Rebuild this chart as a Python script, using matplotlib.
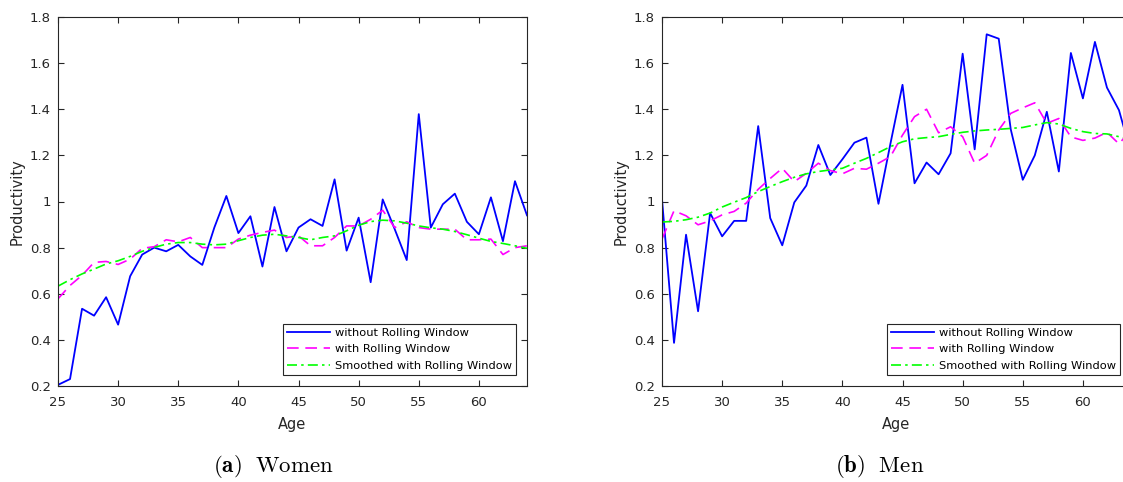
import numpy as np
import matplotlib
matplotlib.use('Agg')
import matplotlib.pyplot as plt

plt.rcParams['mathtext.fontset'] = 'cm'

AGES = list(range(25, 65))

# Women
W_RAW = [0.205, 0.23, 0.535, 0.505, 0.585, 0.466, 0.676, 0.77, 0.80, 0.784,
         0.812, 0.762, 0.725, 0.887, 1.024, 0.863, 0.936, 0.718, 0.976, 0.784,
         0.887, 0.923, 0.894, 1.096, 0.787, 0.930, 0.65, 1.009, 0.88, 0.746,
         1.379, 0.887, 0.988, 1.034, 0.912, 0.858, 1.018, 0.828, 1.088, 0.94]
W_ROLL = [0.578, 0.636, 0.68, 0.736, 0.74, 0.727, 0.75, 0.797, 0.804, 0.834,
          0.825, 0.844, 0.80, 0.80, 0.80, 0.837, 0.854, 0.866, 0.876, 0.844,
          0.851, 0.808, 0.808, 0.844, 0.894, 0.894, 0.923, 0.962, 0.887, 0.912,
          0.887, 0.88, 0.88, 0.88, 0.834, 0.834, 0.837, 0.77, 0.80, 0.808]
W_SMOOTH = [0.633, 0.661, 0.686, 0.707, 0.729, 0.743, 0.762, 0.784, 0.801, 0.815,
            0.822, 0.822, 0.815, 0.812, 0.815, 0.83, 0.844, 0.854, 0.858, 0.851,
            0.844, 0.834, 0.844, 0.851, 0.873, 0.897, 0.913, 0.919, 0.916, 0.906,
            0.894, 0.886, 0.88, 0.87, 0.856, 0.841, 0.827, 0.818, 0.808, 0.797]

# Men
M_RAW = [1.01, 0.387, 0.856, 0.524, 0.95, 0.849, 0.916, 0.916, 1.327, 0.928,
         0.81, 0.996, 1.069, 1.245, 1.115, 1.183, 1.255, 1.277, 0.99, 1.252,
         1.506, 1.079, 1.169, 1.118, 1.209, 1.641, 1.226, 1.725, 1.706, 1.313,
         1.094, 1.20, 1.389, 1.13, 1.644, 1.447, 1.692, 1.494, 1.396, 1.21]
M_ROLL = [0.837, 0.96, 0.938, 0.899, 0.916, 0.942, 0.957, 0.993, 1.053, 1.10,
          1.144, 1.086, 1.122, 1.166, 1.134, 1.12, 1.144, 1.14, 1.166, 1.195,
          1.288, 1.368, 1.40, 1.298, 1.324, 1.281, 1.166, 1.20, 1.31, 1.382,
          1.406, 1.428, 1.339, 1.36, 1.28, 1.265, 1.275, 1.30, 1.25, 1.31]
M_SMOOTH = [0.911, 0.914, 0.921, 0.932, 0.95, 0.976, 0.997, 1.017, 1.043, 1.065,
            1.086, 1.105, 1.12, 1.13, 1.137, 1.144, 1.166, 1.187, 1.212, 1.238,
            1.259, 1.272, 1.277, 1.281, 1.291, 1.30, 1.306, 1.31, 1.313, 1.317,
            1.321, 1.332, 1.342, 1.336, 1.317, 1.303, 1.295, 1.293, 1.281, 1.27]

YTICKS = [0.2, 0.4, 0.6, 0.8, 1.0, 1.2, 1.4, 1.6, 1.8]
YLABELS = ['0.2', '0.4', '0.6', '0.8', '1', '1.2', '1.4', '1.6', '1.8']
XTICKS = [25, 30, 35, 40, 45, 50, 55, 60]
LEGEND = ['without Rolling Window', 'with Rolling Window', 'Smoothed with Rolling Window']

W, H = 1123, 482
TXT = '#262626'


def panel(ax, raw, roll, smooth):
    ax.plot(AGES, raw, color='#0000ff', lw=1.3, label=LEGEND[0])
    ax.plot(AGES, roll, color='#ff00ff', lw=1.2, ls=(0, (7, 4)), label=LEGEND[1])
    ax.plot(AGES, smooth, color='#00ff00', lw=1.2, ls=(0, (6, 2.5, 1.5, 2.5)), label=LEGEND[2])
    ax.set_xlim(25, 64); ax.set_ylim(0.2, 1.8)
    ax.set_xticks(XTICKS); ax.set_yticks(YTICKS); ax.set_yticklabels(YLABELS)
    ax.tick_params(direction='in', top=True, right=True, length=4, width=0.8,
                   colors=TXT, labelsize=9.5)
    ax.tick_params(axis='x', pad=7)
    ax.tick_params(axis='y', pad=5)
    for s in ax.spines.values():
        s.set_color(TXT); s.set_linewidth(0.8)
    ax.set_xlabel('Age', fontsize=10.5, color=TXT, labelpad=6)
    ax.set_ylabel('Productivity', fontsize=10.5, color=TXT, labelpad=4)
    leg = ax.legend(loc='lower right', fontsize=8.2, handlelength=3.7, borderaxespad=0.95,
                    fancybox=False, framealpha=1, edgecolor=TXT,
                    borderpad=0.4, labelspacing=0.55, handletextpad=0.45)
    leg.get_frame().set_linewidth(0.8)


fig = plt.figure(figsize=(W / 100, H / 100), dpi=100)
ax1 = fig.add_axes([58 / W, (H - 386) / H, 469 / W, 369 / H])
ax2 = fig.add_axes([662 / W, (H - 386) / H, 469 / W, 369 / H])  # runs past the right edge
panel(ax1, W_RAW, W_ROLL, W_SMOOTH)
panel(ax2, M_RAW, M_ROLL, M_SMOOTH)

fig.text(213 / W, 10 / H, r'$\mathbf{(a)}\ \ \mathrm{Women}$', ha='left', va='baseline', fontsize=16.5)
fig.text(835 / W, 10 / H, r'$\mathbf{(b)}\ \ \mathrm{Men}$', ha='left', va='baseline', fontsize=16.5)

fig.savefig('out.png', dpi=100)
